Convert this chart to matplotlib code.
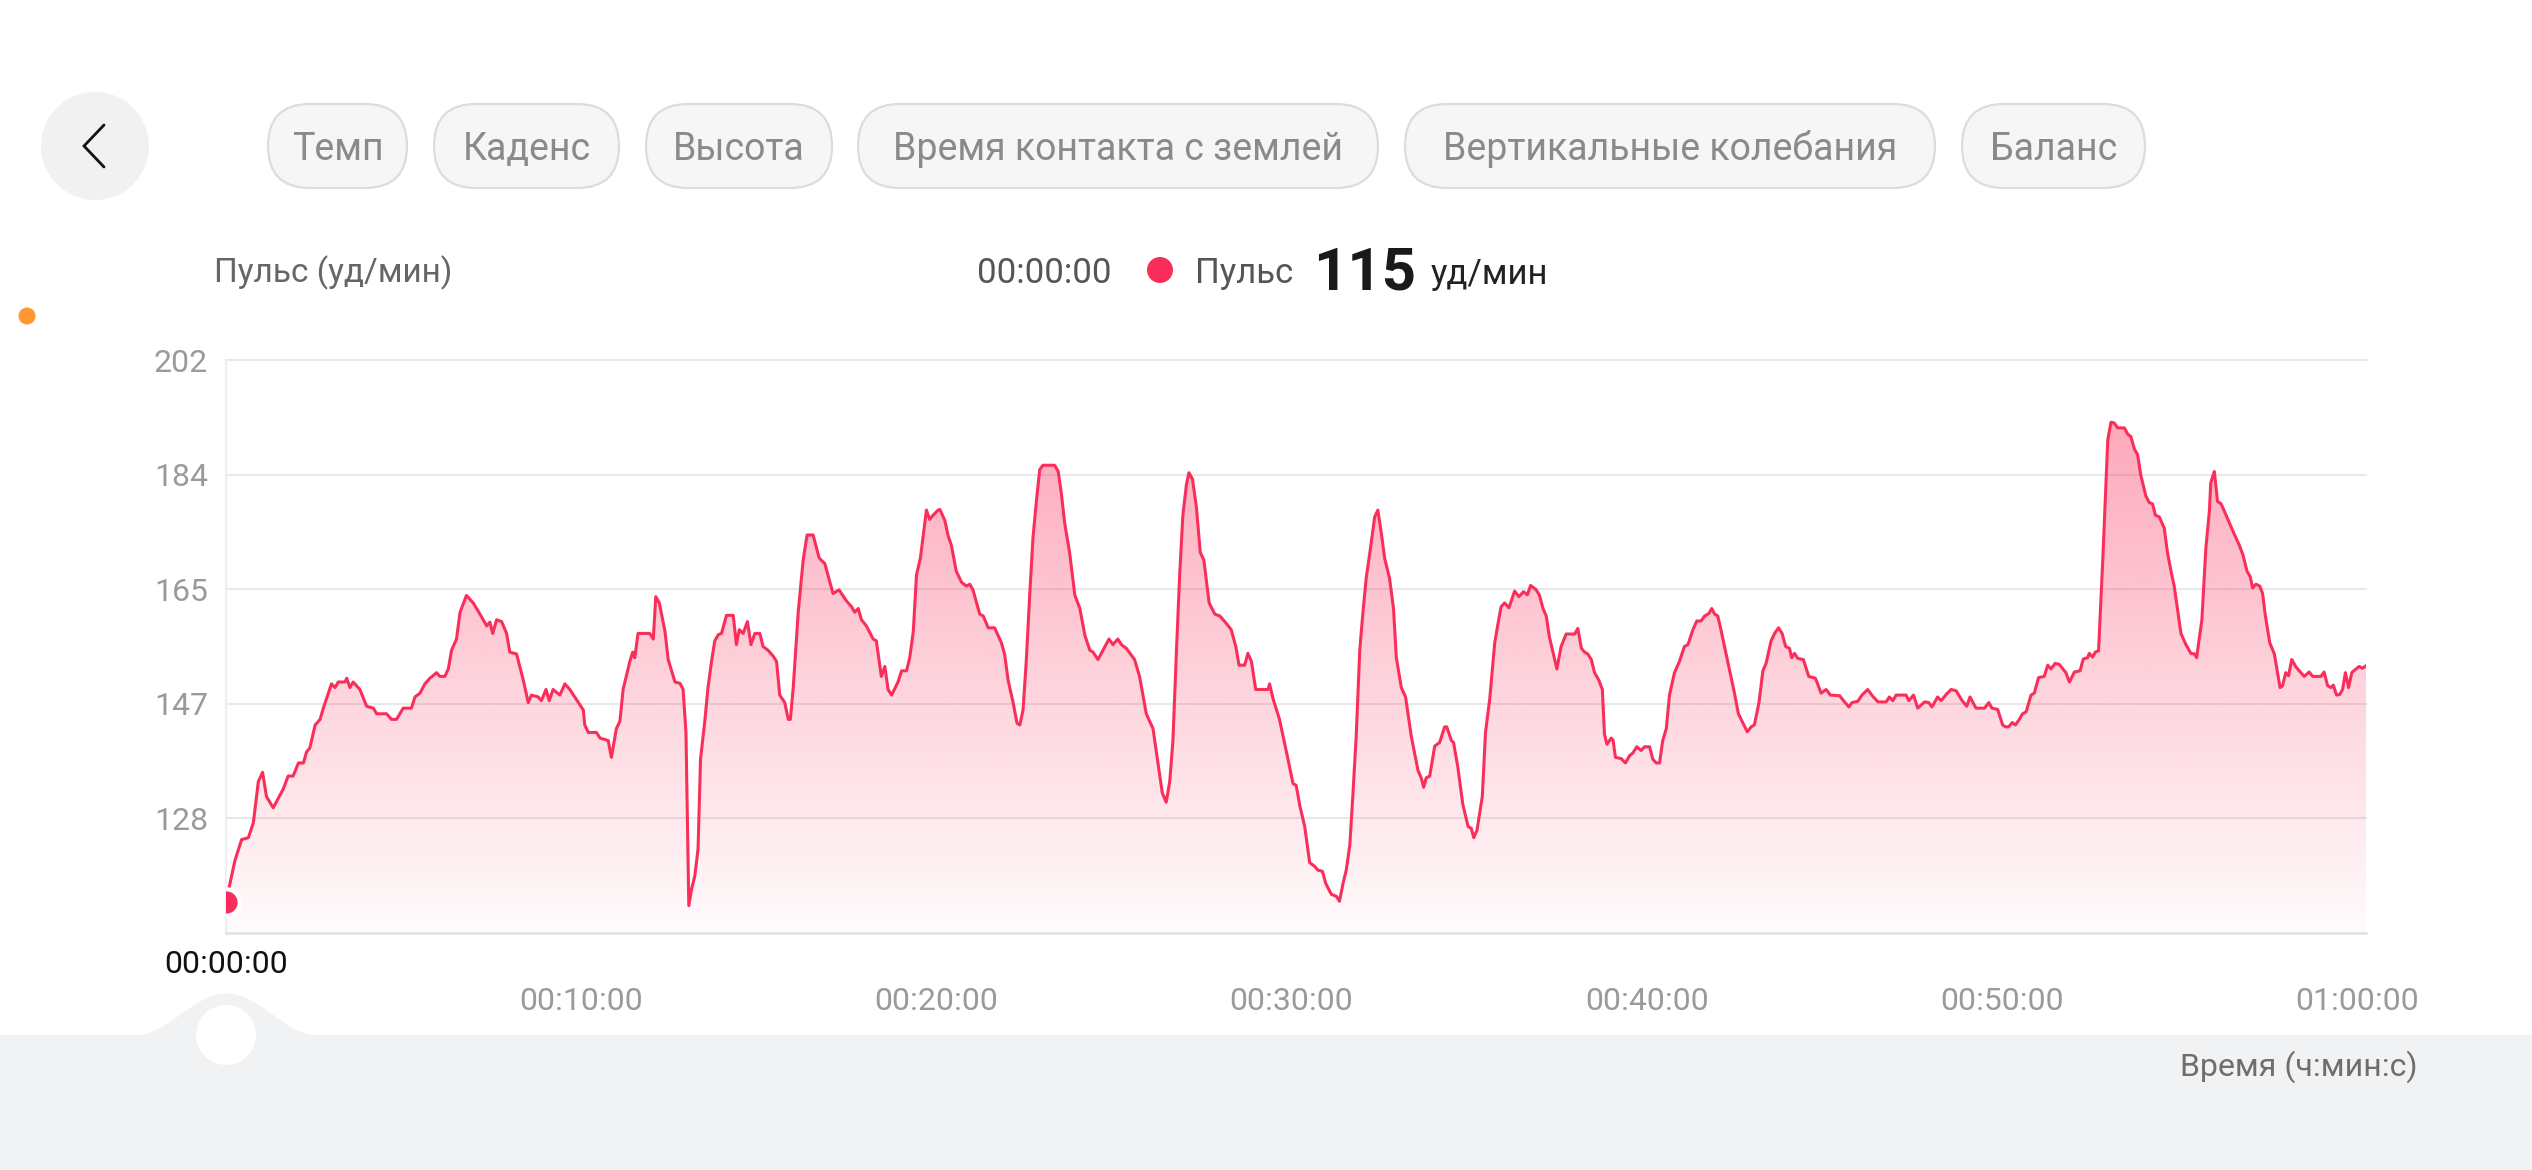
import numpy as np
import matplotlib
matplotlib.use("Agg")
import matplotlib.pyplot as plt
from matplotlib.patches import FancyBboxPatch, Circle, Rectangle, Polygon
from matplotlib.colors import to_rgb

# ---------------- data ----------------
time_min = [
    0.0, 0.16, 0.25, 0.44, 0.63, 0.77, 0.91, 1.03, 1.14, 1.33, 1.61, 1.75, 1.89, 2.04, 2.18, 2.27, 2.36, 2.51,
    2.65, 2.74, 2.97, 3.07, 3.16, 3.35, 3.40, 3.49, 3.58, 3.77, 3.96, 4.15, 4.24, 4.52, 4.66, 4.80, 4.99, 5.22,
    5.32, 5.46, 5.60, 5.74, 5.93, 6.02, 6.16, 6.26, 6.35, 6.49, 6.59, 6.77, 6.96, 7.15, 7.34, 7.43, 7.51, 7.62,
    7.76, 7.90, 7.99, 8.18, 8.37, 8.51, 8.60, 8.79, 8.88, 9.01, 9.10, 9.21, 9.40, 9.54, 9.68, 9.92,
    10.06, 10.10, 10.20, 10.43, 10.53, 10.76, 10.85, 10.99, 11.09, 11.18, 11.37, 11.45, 11.51, 11.60, 11.93,
    12.03, 12.10, 12.20, 12.36, 12.45, 12.64, 12.78, 12.87, 12.95, 13.03, 13.11, 13.20, 13.29, 13.36, 13.48,
    13.57, 13.67, 13.76, 13.86, 13.95, 14.09, 14.28, 14.37, 14.45, 14.56, 14.68, 14.78, 14.89, 15.03, 15.12,
    15.26, 15.40, 15.50, 15.59, 15.73, 15.83, 15.89, 15.97, 16.11, 16.25, 16.36, 16.53, 16.70, 16.86, 17.09,
    17.26, 17.47, 17.61, 17.70, 17.80, 17.89, 18.03, 18.22, 18.31, 18.45, 18.55, 18.64, 18.74, 18.92, 19.02,
    19.16, 19.25, 19.35, 19.44, 19.55, 19.72, 19.81, 19.91, 20.05,
    20.10, 20.24, 20.33, 20.42, 20.56, 20.71, 20.85, 20.94, 21.03, 21.22, 21.32, 21.46, 21.64, 21.83, 21.92,
    22.02, 22.16, 22.27, 22.35, 22.44, 22.53, 22.63, 22.72, 22.82, 22.91, 23.00, 23.33, 23.43, 23.52, 23.61,
    23.75, 23.90, 24.04, 24.18, 24.32, 24.41, 24.55, 24.69, 24.86, 24.97, 25.11, 25.21, 25.35, 25.58, 25.72,
    25.91, 26.10, 26.24, 26.36, 26.47, 26.57, 26.66, 26.76, 26.85, 26.94, 27.04, 27.11, 27.21, 27.32, 27.43,
    27.53, 27.68, 27.84, 27.98, 28.12, 28.30, 28.43, 28.52, 28.68, 28.77, 28.87, 28.99, 29.34, 29.38, 29.48,
    29.66, 29.90, 30.04, 30.13,
    30.23, 30.37, 30.51, 30.65, 30.74, 30.87, 30.96, 31.12, 31.26, 31.35, 31.45, 31.54, 31.64, 31.73, 31.82,
    31.92, 32.01, 32.10, 32.22, 32.34, 32.43, 32.53, 32.62, 32.76, 32.87, 32.95, 33.09, 33.21, 33.37, 33.56,
    33.65, 33.72, 33.79, 33.89, 34.03, 34.17, 34.31, 34.37, 34.50, 34.56, 34.68, 34.82, 34.97, 35.06, 35.13,
    35.22, 35.37, 35.46, 35.58, 35.72, 35.81, 35.90, 36.00, 36.12, 36.28, 36.40, 36.53, 36.64, 36.73, 36.89,
    36.98, 37.08, 37.17, 37.26, 37.47, 37.59, 37.73, 37.97, 38.06, 38.16, 38.25, 38.34, 38.44, 38.53, 38.65,
    38.75, 38.81, 38.88, 39.00, 39.05, 39.12, 39.28, 39.40, 39.52, 39.61, 39.72, 39.84, 39.94, 40.08, 40.17,
    40.27,
    40.36, 40.45, 40.55, 40.64, 40.78, 40.92, 41.06, 41.16, 41.30, 41.41, 41.53, 41.63, 41.75, 41.83, 41.91,
    42.00, 42.10, 42.19, 42.28, 42.38, 42.47, 42.58, 42.71, 42.83, 42.94, 43.03, 43.16, 43.27, 43.36, 43.50,
    43.60, 43.71, 43.81, 43.91, 44.02, 44.08, 44.16, 44.25, 44.41, 44.56, 44.75, 44.91, 45.05, 45.17, 45.43,
    45.57, 45.69, 45.78, 45.94, 46.06, 46.22, 46.35, 46.51, 46.74, 46.83, 46.93, 47.02, 47.30, 47.38, 47.51,
    47.63, 47.82, 47.94, 48.03, 48.19, 48.29, 48.43, 48.57, 48.71, 48.88, 49.01, 49.10, 49.27, 49.51, 49.63,
    49.72, 49.88, 50.02, 50.10, 50.19, 50.29, 50.38,
    50.49, 50.58, 50.68, 50.82, 50.91, 51.03, 51.19, 51.29, 51.38, 51.50, 51.62, 51.76, 51.80, 51.90, 52.04,
    52.20, 52.29, 52.41, 52.46, 52.55, 52.63, 52.72, 52.84, 52.98, 53.07, 53.16, 53.26, 53.45, 53.54, 53.63,
    53.73, 53.82, 53.91, 54.05, 54.15, 54.24, 54.32, 54.43, 54.57, 54.66, 54.76, 54.85, 55.04, 55.18, 55.32,
    55.42, 55.48, 55.63, 55.74, 55.84, 55.88, 55.98, 56.07, 56.17, 56.31, 56.49, 56.68, 56.78, 56.90, 56.99,
    57.06, 57.15, 57.26, 57.34, 57.41, 57.54, 57.67, 57.83, 57.90, 57.99, 58.07, 58.16, 58.28, 58.37, 58.51,
    58.65, 58.75, 58.98, 59.07, 59.17, 59.26, 59.33, 59.42, 59.51, 59.59, 59.67, 59.76, 59.85, 59.97, 60.06,
    60.15, 60.25,
]

heart_rate = [
    115, 119.2, 121.6, 125.0, 125.3, 127.7, 134.3, 135.8, 131.9, 130.1, 133.1, 135.2, 135.2, 137.3, 137.3, 139.1,
    139.7, 143.4, 144.3, 146.1, 150.0, 149.4, 150.3, 150.3, 150.9, 149.4, 150.3, 149.1, 146.4, 146.1, 145.2,
    145.2, 144.3, 144.3, 146.1, 146.1, 147.9, 148.5, 150.0, 150.9, 151.8, 151.2, 151.2, 152.4, 155.4, 157.2,
    161.5, 164.2, 163.0, 161.2, 159.3, 159.9, 158.1, 160.3, 160.0, 158.1, 155.1, 154.8, 150.6, 147.0, 148.2,
    147.9, 147.3, 149.1, 147.3, 149.1, 148.2, 150.0, 149.1, 147.0,
    145.8, 143.4, 142.2, 142.2, 141.3, 140.9, 138.2, 142.8, 144.0, 149.1, 153.6, 155.1, 154.2, 158.1, 158.1,
    157.2, 164.0, 163.0, 158.4, 153.9, 150.3, 150.1, 149.1, 142.2, 114.4, 117.1, 119.2, 123.5, 137.9, 144.0,
    149.4, 153.6, 156.9, 157.9, 158.1, 161.0, 161.0, 156.3, 158.7, 158.1, 160.0, 156.3, 158.1, 158.1, 156.0,
    155.4, 154.5, 153.6, 148.2, 147.0, 144.3, 144.3, 149.4, 161.5, 169.9, 173.9, 173.9, 170.2, 169.3, 164.5,
    165.1, 163.3, 162.4, 161.5, 162.1, 160.3, 159.3, 157.2, 156.9, 151.2, 152.8, 149.1, 148.2, 150.3, 152.1,
    152.1, 154.2, 158.4, 167.5, 170.2, 177.9, 176.4, 177.1, 177.9,
    178.0, 176.2, 173.8, 172.3, 168.1, 166.3, 165.7, 166.0, 165.1, 161.2, 160.9, 159.0, 159.0, 156.6, 154.8,
    150.6, 147.0, 143.7, 143.4, 145.8, 153.6, 164.5, 173.5, 179.6, 184.4, 185.1, 185.1, 184.1, 180.5, 175.9,
    171.1, 164.2, 162.1, 157.8, 155.4, 155.1, 153.9, 155.4, 157.2, 156.3, 157.2, 156.3, 155.7, 153.9, 151.2,
    145.2, 142.8, 137.3, 132.5, 131.0, 134.3, 140.9, 155.4, 167.5, 177.1, 182.0, 183.9, 182.9, 178.4, 171.1,
    169.9, 163.0, 161.2, 160.9, 160.0, 158.7, 156.0, 153.0, 153.0, 154.9, 153.6, 149.1, 149.1, 150.0, 147.6,
    144.3, 137.9, 134.0, 133.7,
    130.5, 127.1, 121.3, 120.7, 120.1, 119.9, 118.0, 116.2, 115.9, 115.1, 118.0, 120.1, 124.1, 132.5, 141.6,
    155.4, 161.5, 166.9, 171.7, 176.8, 177.9, 174.1, 170.2, 166.9, 162.1, 154.2, 149.4, 147.9, 141.6, 136.1,
    134.9, 133.4, 134.9, 135.2, 140.0, 140.6, 143.1, 143.1, 140.9, 140.6, 136.7, 130.7, 127.1, 126.8, 125.3,
    126.5, 131.9, 142.2, 147.6, 156.6, 159.6, 162.4, 163.0, 162.2, 164.9, 164.0, 164.8, 164.3, 165.8, 165.1,
    164.2, 162.1, 160.9, 157.5, 152.4, 156.0, 158.0, 158.0, 158.9, 155.7, 155.1, 154.8, 153.9, 151.8, 150.6,
    149.1, 141.9, 140.3, 141.3, 141.0, 138.2, 138.0, 137.3, 138.5, 138.9, 139.9, 139.3, 139.9, 139.9, 137.9,
    137.3,
    137.3, 140.9, 142.8, 148.2, 151.8, 153.6, 156.0, 156.3, 158.7, 160.1, 160.1, 160.9, 161.3, 162.1, 161.2,
    160.9, 158.4, 156.0, 153.6, 150.9, 148.5, 145.2, 143.7, 142.3, 143.1, 143.4, 147.0, 152.1, 153.3, 156.9,
    158.1, 159.0, 158.1, 156.0, 155.7, 154.2, 154.9, 154.1, 153.9, 151.2, 150.9, 148.5, 149.1, 148.2, 148.1,
    147.1, 146.3, 147.0, 147.2, 148.2, 149.1, 148.1, 147.1, 147.1, 147.9, 147.3, 148.2, 148.2, 147.3, 148.2,
    146.1, 147.1, 147.0, 146.3, 147.9, 147.3, 148.3, 149.1, 148.9, 147.3, 146.4, 147.9, 146.1, 146.1, 147.0,
    146.1, 145.9, 143.4, 143.1, 143.1, 143.8, 143.4,
    144.3, 145.2, 145.5, 148.2, 148.5, 151.0, 151.2, 153.0, 152.4, 153.3, 153.1, 152.1, 151.8, 150.3, 151.9,
    152.1, 154.0, 154.2, 154.9, 154.3, 155.1, 155.3, 170.0, 189.2, 192.0, 191.9, 191.1, 191.1, 190.1, 189.7,
    187.7, 186.8, 183.5, 180.2, 179.1, 178.9, 177.1, 176.8, 175.0, 171.1, 168.1, 165.7, 158.1, 156.3, 154.9,
    154.8, 154.2, 160.3, 171.7, 177.7, 182.3, 184.1, 179.3, 178.9, 177.1, 174.7, 172.3, 170.8, 168.1, 167.2,
    165.4, 166.0, 165.7, 164.5, 161.2, 156.6, 154.8, 149.4, 149.7, 151.8, 151.3, 153.9, 152.7, 152.1, 151.2,
    151.9, 151.2, 151.2, 151.9, 149.7, 149.4, 149.8, 148.2, 148.3, 149.1, 151.8, 149.4, 151.8, 152.4, 152.8,
    152.5, 152.9,
]

y_min, y_max = 110, 202
y_tick_values = [128.4, 146.8, 165.2, 183.6, 202.0]
y_tick_labels = ["128", "147", "165", "184", "202"]
x_tick_values = [10, 20, 30, 40, 50, 60]
x_tick_labels = ["00:10:00", "00:20:00", "00:30:00", "00:40:00", "00:50:00", "01:00:00"]
tabs = ["Темп", "Каденс", "Высота", "Время контакта с землей", "Вертикальные колебания", "Баланс"]

# ---------------- figure ----------------
plt.rcParams['font.family'] = ['Roboto', 'DejaVu Sans']
W, H = 2532, 1170
fig = plt.figure(figsize=(W / 100, H / 100), dpi=100)
fig.patch.set_facecolor('white')

LINE = '#FA2E5A'

# UI layer in pixel coordinates
ui = fig.add_axes([0, 0, 1, 1], zorder=0)
ui.set_xlim(0, W)
ui.set_ylim(H, 0)
ui.axis('off')

# bottom grey band with slider bump
band = '#F1F2F4'
ui.add_patch(Rectangle((0, 1035), W, H - 1035, color=band, lw=0))
bx = np.linspace(226 - 92, 226 + 92, 200)
by = 1035 - 42 * 0.5 * (1 + np.cos(np.pi * (bx - 226) / 92))
ui.fill_between(bx, by, 1040, color=band, lw=0)
ui.add_patch(Circle((226, 1035), 30, color='white', lw=0))

# back button
ui.add_patch(Circle((95, 146), 54, color='#F1F1F1', lw=0))
ui.plot([104, 84, 104], [125, 146, 167], color='#111111', lw=2.0,
        solid_capstyle='round', solid_joinstyle='miter')

# tabs (pills)
pill_x = [(268, 407), (434, 619), (646, 832), (858, 1378), (1405, 1935), (1962, 2145)]
py0, py1 = 104, 188
for (x0, x1), label in zip(pill_x, tabs):
    h = py1 - py0
    ui.add_patch(FancyBboxPatch((x0, py0), x1 - x0, h,
                                boxstyle=f"round,pad=0,rounding_size={h / 2}",
                                facecolor='#F6F6F6', edgecolor='#DCDCDC', lw=1.6))
    ui.text((x0 + x1) / 2, 160, label, ha='center', va='baseline',
            fontsize=27, color='#8A8A8A')

# header row
ui.text(214, 282, "Пульс (уд/мин)", ha='left', va='baseline', fontsize=24, color='#666666')
ui.text(977, 283, "00:00:00", ha='left', va='baseline', fontsize=25, color='#555555')
ui.add_patch(Circle((1160, 270), 13, color=LINE, lw=0))
ui.text(1195, 283, "Пульс", ha='left', va='baseline', fontsize=25, color='#555555')
ui.text(1313, 289, f"{heart_rate[0]:.0f}", ha='left', va='baseline', fontsize=43,
        fontweight='bold', color='#1A1A1A')
ui.text(1431, 284, "уд/мин", ha='left', va='baseline', fontsize=25, color='#222222')

# orange dot at left edge
ui.add_patch(Circle((27, 316), 8.5, color='#FF9830', lw=0))

# bottom labels
ui.text(226, 973, "00:00:00", ha='center', va='baseline', fontsize=23, color='#111111')
ui.text(2418, 1076, "Время (ч:мин:с)", ha='right', va='baseline', fontsize=23, color='#6E6E6E')

# ---------------- chart ----------------
L, R, T, B = 226, 2366, 360, 933
ax = fig.add_axes([L / W, 1 - B / H, (R - L) / W, (B - T) / H], zorder=2)
ax.patch.set_alpha(0)

t = np.array(time_min)
v = np.array(heart_rate)

# gradient fill under the curve
verts = np.vstack([np.column_stack([t, v]), [[t[-1], y_min], [t[0], y_min]]])
clip = Polygon(verts, closed=True, facecolor='none', edgecolor='none', transform=ax.transData)
ax.add_patch(clip)
g = np.linspace(0, 1, 256).reshape(-1, 1)
rgba = np.zeros((256, 1, 4))
rgba[..., :3] = to_rgb(LINE)
rgba[..., 3] = 0.02 + 0.44 * g
im = ax.imshow(rgba, extent=[0, 60.25, y_min, y_max], origin='lower', aspect='auto',
               interpolation='bilinear', zorder=1)
im.set_clip_path(clip)

ax.plot(t, v, color=LINE, lw=2.2, zorder=3, solid_joinstyle='round')
ax.plot(t[0], v[0], 'o', ms=19, mfc=LINE, mec='white', mew=3, zorder=5)

ax.set_xlim(0, 60.25)
ax.set_ylim(y_min, y_max)

ax.set_yticks(y_tick_values)
ax.set_yticklabels(y_tick_labels)
ax.set_xticks(x_tick_values)
ax.set_xticklabels(x_tick_labels)
ax.tick_params(axis='x', length=0, pad=39, labelsize=23, labelcolor='#9A9A9A')
ax.tick_params(axis='y', length=0, pad=13, labelsize=23, labelcolor='#9A9A9A')
ax.yaxis.grid(True, color='#E8E8E8', lw=1.5, zorder=0)
for gl in ax.get_ygridlines():
    gl.set_clip_on(False)
ax.set_axisbelow(True)

for s in ['top', 'right']:
    ax.spines[s].set_visible(False)
ax.spines['left'].set_color('#EFEFEF')
ax.spines['left'].set_linewidth(1.5)
ax.spines['bottom'].set_color('#E4E4E4')
ax.spines['bottom'].set_linewidth(2)

fig.savefig('out.png', dpi=100, facecolor='white')
